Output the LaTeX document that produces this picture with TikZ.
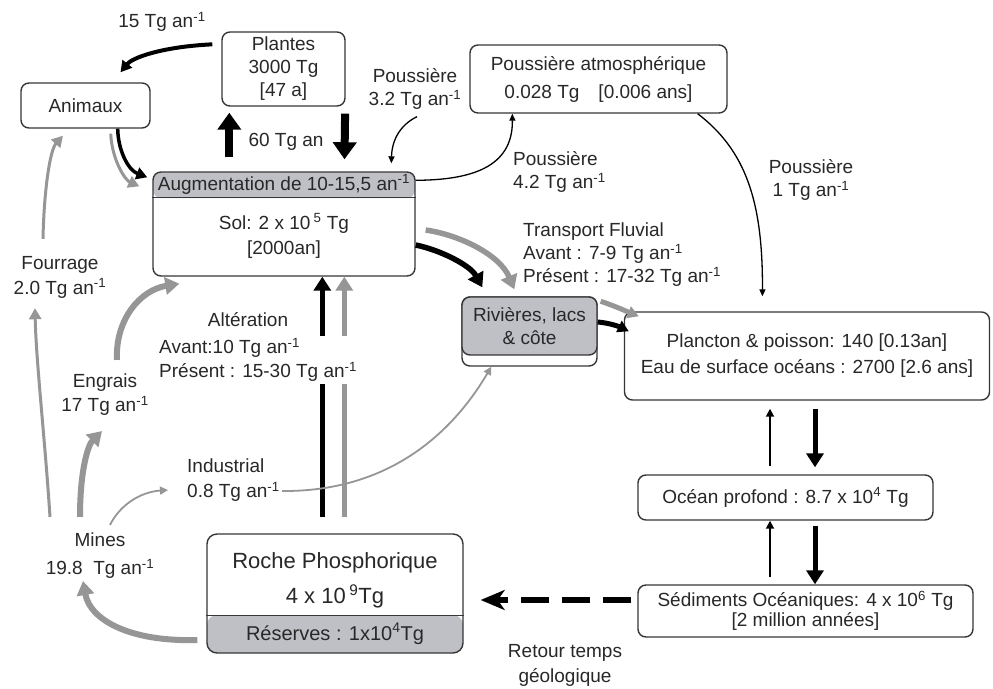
\documentclass[tikz,border=0pt]{standalone}
\usepackage{fontspec}
\setmainfont{Liberation Sans}
\usetikzlibrary{arrows.meta,positioning,calc}
\definecolor{ink}{RGB}{40,40,40}
\definecolor{edge}{RGB}{55,55,55}
\definecolor{boxgray}{RGB}{190,192,198}
\definecolor{flowgray}{RGB}{150,150,150}
\newcommand\tgan{Tg an\textsuperscript{-1}}

\begin{document}
\begin{tikzpicture}[x=1pt, y=-1pt,
  every node/.style={font=\fontsize{19}{23}\selectfont, text=ink},
  box/.style={draw=edge, line width=1.4pt, rounded corners=8pt, fill=white,
              align=center, inner sep=0pt},
  lbl/.style={align=center, inner sep=2pt},
  fat/.style={-{Triangle[length=17pt,width=23pt]}, line width=8pt, black},
  heavy/.style={-{Triangle[length=14pt,width=17pt]}, line width=5.5pt},
  medium/.style={-{Triangle[length=11pt,width=12pt]}, line width=3.5pt},
  slim/.style={-{Triangle[length=8pt,width=8pt]}, line width=1.8pt},
  hair/.style={-{Triangle[length=7pt,width=6pt]}, line width=1.3pt, black},
]
\fill[white] (0,0) rectangle (993,688);
\useasboundingbox (0,0) rectangle (993,688);

% reservoirs
\node[box, minimum width=123pt, minimum height=74pt] (plantes) at (283.5,69)
  {Plantes\\3000 Tg\\{[47 a]}};
\node[box, minimum width=129pt, minimum height=45pt] (animaux) at (85.5,105.5) {Animaux};
\node[box, minimum width=257pt, minimum height=68pt,
      font=\fontsize{19}{28}\selectfont] (dust) at (598.5,79)
  {Poussière atmosphérique\\0.028 Tg\quad[0.006 ans]};
\node[box, minimum width=262pt, minimum height=104pt,
      path picture={\fill[boxgray] (path picture bounding box.north west)
        rectangle ([yshift=-26pt]path picture bounding box.north east);}] (soil) at (284,224) {};
\draw[edge, line width=1.4pt] ([yshift=-26pt]soil.north west) -- ([yshift=-26pt]soil.north east);
\node (gain) at ([yshift=-13pt]soil.north) {Augmentation de 10-15,5 an\textsuperscript{-1}};
\node[align=center, font=\fontsize{19}{25}\selectfont] (soiltxt) at (284,236)
  {Sol: 2 x 10\,\textsuperscript{5} Tg\\{[2000an]}};
\node[box, minimum width=135pt, minimum height=69pt] (rivback) at (529.5,331.5) {};
\node[box, fill=boxgray, minimum width=135pt, minimum height=58pt] (rivers) at (529.5,326)
  {Rivières, lacs\\\& côte};
\node[box, minimum width=365pt, minimum height=88pt,
      font=\fontsize{19}{26}\selectfont] (plankton) at (807,356)
  {Plancton \& poisson: 140 [0.13an]\\Eau de surface océans : 2700 [2.6 ans]};
\node[box, minimum width=295pt, minimum height=45pt] (deep) at (785.5,497.5)
  {Océan profond : 8.7 x 10\textsuperscript{4} Tg};
\node[box, minimum width=335pt, minimum height=52pt,
      font=\fontsize{19}{20}\selectfont] (sed) at (805.5,611)
  {Sédiments Océaniques: 4 x 10\textsuperscript{6} Tg\\{[2 million années]}};
\node[box, rounded corners=10pt, minimum width=256pt, minimum height=119pt,
      path picture={\fill[boxgray] ([yshift=38pt]path picture bounding box.south west)
        rectangle (path picture bounding box.south east);}] (roche) at (335,593.5) {};
\draw[edge, line width=1.4pt] ([yshift=38pt]roche.south west) -- ([yshift=38pt]roche.south east);
\node[align=center, font=\fontsize{22}{35}\selectfont] (rochetxt) at (335,580)
  {Roche Phosphorique\\4 x 10\,\textsuperscript{9}Tg};
\node[font=\fontsize{20}{24}\selectfont] (reserve) at (335,634) {Réserves : 1x10\textsuperscript{4}Tg};

% flux labels
\node[lbl] (l15) at (162,22) {15 \tgan};
\node[lbl] (l60) at (286,142) {60 Tg an};
\node[lbl] (l32) at (415,89) {Poussière\\3.2 \tgan};
\node[lbl, align=left, anchor=west] (l42) at (511,172) {Poussière\\4.2 \tgan};
\node[lbl] (l1) at (811,180) {Poussière\\1 \tgan};
\node[lbl, align=left, anchor=west] (lfluv) at (521,255)
  {Transport Fluvial\\Avant : 7-9 \tgan\\Présent : 17-32 \tgan};
\node[lbl] (lalt) at (248,320) {Altération};
\node[lbl, align=left, anchor=west, font=\fontsize{19}{25}\selectfont] (lind) at (185,480)
  {Industrial\\0.8 \tgan};
\node[lbl, font=\fontsize{19}{28}\selectfont] (lmines) at (100,556) {Mines\\19.8~ \tgan};
\node[lbl, font=\fontsize{19}{24}\selectfont] (lengr) at (105,395) {Engrais\\17 \tgan};
\node[lbl, font=\fontsize{19}{25}\selectfont] (lfour) at (60,277) {Fourrage\\2.0 \tgan};
\node[lbl, font=\fontsize{19}{25}\selectfont] (lret) at (565,665) {Retour temps\\géologique};

% flows: plants, animals, soil
\draw[medium, black, line width=4pt] ([xshift=-9pt,yshift=-13pt]plantes.north west)
  .. controls (160,47) and (132,58) .. ([xshift=35pt,yshift=10pt]animaux.north);
\draw[fat, shorten <=14pt, shorten >=6pt] ([xshift=77pt]soil.north west) -- ([xshift=8pt]plantes.south west);
\draw[fat, shorten <=7pt, shorten >=12pt] ([xshift=-0.5pt]plantes.south east) -- ([xshift=192pt]soil.north west);
\draw[medium, black] ([xshift=-33pt]animaux.south east)
  .. controls (118,150) and (128,170) .. ([xshift=-5pt,yshift=-6pt]soil.north west);
\draw[medium, flowgray, line width=3pt] ([xshift=-40pt,yshift=-5pt]animaux.south east)
  .. controls (112,160) and (125,180) .. ([xshift=-13pt,yshift=-15pt]soil.north west);

% dust
\draw[hair] ([xshift=2pt,yshift=-5pt]l32.south)
  .. controls (400,125) and (392,140) .. ([xshift=239pt,yshift=8pt]soil.north west);
\draw[hair] ([yshift=-9pt]soil.north east)
  .. controls (470,180) and (513,168) .. ([xshift=43pt]dust.south west);
\draw[hair, shorten >=15pt] ([xshift=-30pt]dust.south east)
  .. controls (745,150) and (763,200) .. ([xshift=138.5pt]plankton.north west);

% rivers
\draw[heavy, black] ([yshift=-21pt]soil.east)
  .. controls (440,250) and (470,265) .. ([xshift=21pt,yshift=9pt]rivers.north west);
\draw[heavy, flowgray] ([xshift=10pt,yshift=-6pt]soil.east)
  .. controls (460,235) and (500,255) .. ([xshift=53pt,yshift=7pt]rivers.north west);
\draw[medium, black, line width=5pt] ([yshift=4pt]rivers.east)
  .. controls (610,323) and (620,327) .. ([xshift=5pt,yshift=-20pt]plankton.north west);
\draw[medium, flowgray, line width=5pt] ([xshift=3pt,yshift=-5pt]rivers.north east)
  .. controls (615,306) and (628,312) .. ([xshift=15pt,yshift=-5pt]plankton.north west);

% ocean exchanges
\draw[slim, black, shorten <=8pt, shorten >=8pt] ([xshift=-15.5pt]deep.north) -- ([xshift=-37pt]plankton.south);
\draw[heavy, black, line width=5pt, shorten <=8pt, shorten >=7pt] ([xshift=8pt]plankton.south) -- ([xshift=29.5pt]deep.north);
\draw[slim, black, shorten <=7pt] ([xshift=-35.5pt]sed.north) -- ([xshift=-15.5pt]deep.south);
\draw[heavy, black, line width=5pt, shorten <=5pt] ([xshift=29.5pt]deep.south) -- ([xshift=9.5pt]sed.north);
\draw[-{Stealth[length=24pt,width=20pt,inset=7pt]}, line width=6pt, black,
      dash pattern=on 28pt off 13pt, shorten <=6pt, shorten >=17pt]
  ([yshift=11pt]sed.west) -- ([yshift=-6.5pt]roche.east);

% weathering
\draw[heavy, black, line width=5pt, shorten <=16pt] ([xshift=116pt]roche.north west) -- ([xshift=170pt]soil.south west);
\draw[heavy, flowgray, line width=5pt, shorten <=16pt] ([xshift=138pt]roche.north west) -- ([xshift=192pt]soil.south west);
\node[lbl, align=left, anchor=west, fill=white, font=\fontsize{19}{24}\selectfont] (lalt2) at (157,360)
  {Avant:10 \tgan\\Présent : 15-30 \tgan};

% mining
\draw[heavy, flowgray, line width=6pt] ([xshift=-9pt,yshift=-46.5pt]roche.west)
  .. controls (130,642) and (90,620) .. ([xshift=-17pt]lmines.south);
\draw[heavy, flowgray, line width=6pt] ([xshift=-20pt,yshift=14pt]lmines.north)
  .. controls (80,470) and (88,445) .. ([xshift=-3pt,yshift=-13pt]lengr.south);
\draw[heavy, flowgray, line width=6pt] ([xshift=12pt,yshift=12pt]lengr.north)
  .. controls (115,320) and (140,290) .. ([xshift=27pt,yshift=-7pt]soil.south west);
\draw[medium, flowgray, line width=3pt] ([xshift=-50pt,yshift=14pt]lmines.north)
  .. controls (45,440) and (36,360) .. ([xshift=-25pt,yshift=-8pt]lfour.south);
\draw[medium, flowgray, line width=3pt] ([xshift=-17pt,yshift=15pt]lfour.north)
  .. controls (44,190) and (50,150) .. ([xshift=-22.5pt,yshift=-7pt]animaux.south);
\draw[slim, flowgray] ([xshift=10pt,yshift=6pt]lmines.north)
  .. controls (120,505) and (140,492) .. ([xshift=-17pt,yshift=-10pt]lind.west);
\draw[slim, flowgray] ([yshift=-11pt]lind.east)
  .. controls (400,492) and (460,420) .. ([xshift=30pt]rivback.south west);
\end{tikzpicture}
\end{document}
